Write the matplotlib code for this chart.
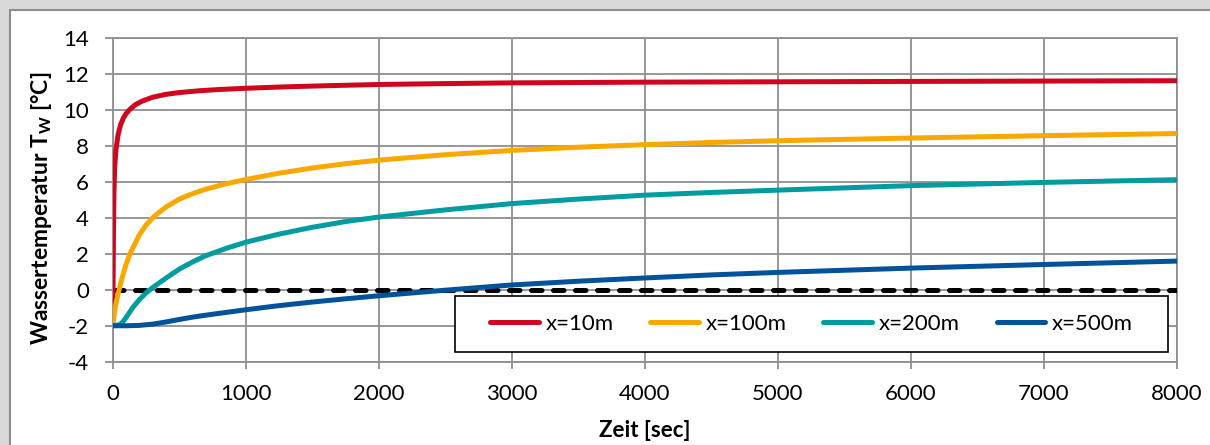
import numpy as np
import matplotlib
matplotlib.use('Agg')
import matplotlib.pyplot as plt
from matplotlib.patches import Rectangle

plt.rcParams['font.family'] = ['Lato', 'DejaVu Sans']
plt.rcParams['axes.unicode_minus'] = False
plt.rcParams['mathtext.fontset'] = 'custom'
plt.rcParams['mathtext.bf'] = 'Lato:bold'
plt.rcParams['mathtext.rm'] = 'Lato'

# Werte (Zeit in s, Temperatur in °C)
t_10 = [0, 3, 6, 10, 15, 25, 40, 60, 80, 100, 130, 170, 220, 300, 400, 500, 650, 800, 1000,
        1300, 1600, 2000, 2500, 3000, 4000, 5000, 6000, 7000, 8000]
T_10 = [-2, 0, 3, 5.5, 6.8, 7.8, 8.6, 9.2, 9.55, 9.8, 10.05, 10.3, 10.5, 10.72, 10.88, 10.98, 11.08, 11.15, 11.22,
        11.3, 11.36, 11.43, 11.48, 11.52, 11.56, 11.58, 11.6, 11.62, 11.64]

t_100 = [0, 20, 40, 65, 100, 130, 160, 200, 250, 300, 350, 400, 500, 600, 700, 850, 1000,
         1250, 1500, 1750, 2000, 2500, 3000, 3500, 4000, 4500, 5000, 6000, 7000, 8000]
T_100 = [-2, -0.95, -0.25, 0.5, 1.4, 2.0, 2.45, 3.05, 3.6, 4.0, 4.32, 4.6, 5.05, 5.35, 5.6, 5.9, 6.14,
         6.49, 6.78, 7.02, 7.22, 7.52, 7.76, 7.94, 8.08, 8.2, 8.3, 8.45, 8.58, 8.7]

t_200 = [0, 50, 75, 100, 150, 200, 250, 300, 400, 500, 600, 700, 850, 1000, 1250, 1500, 1750,
         2000, 2500, 3000, 3500, 4000, 4500, 5000, 6000, 7000, 8000]
T_200 = [-2, -1.95, -1.8, -1.55, -1.0, -0.55, -0.18, 0.12, 0.65, 1.15, 1.55, 1.9, 2.3, 2.65, 3.1, 3.48, 3.8,
         4.05, 4.45, 4.8, 5.05, 5.27, 5.42, 5.55, 5.8, 5.98, 6.13]

t_500 = [0, 100, 200, 300, 400, 500, 600, 700, 850, 1000, 1250, 1500, 1750, 2000, 2500, 3000, 3500,
         4000, 4500, 5000, 6000, 7000, 8000]
T_500 = [-2, -2.0, -1.98, -1.91, -1.79, -1.65, -1.52, -1.41, -1.26, -1.11, -0.88, -0.68, -0.5, -0.33, -0.02,
         0.27, 0.48, 0.66, 0.83, 0.97, 1.21, 1.41, 1.6]

t_null = [0, 8000]
T_null = [0, 0]

labels = ['x=10m', 'x=100m', 'x=200m', 'x=500m']
colors = ['#D0061F', '#F9A800', '#009CA0', '#00529B']

fig = plt.figure(figsize=(12.1, 4.45), dpi=100)
fig.patch.set_facecolor('#d9d9d9')
fig.patches.append(Rectangle((10 / 1210, -0.1), 1.1, 1.1 - 10 / 445, transform=fig.transFigure,
                             facecolor='white', edgecolor='#8c8c8c', linewidth=1.5, zorder=-1))

ax = fig.add_axes([0.0931, 0.1872, 0.8796, 0.7267])
ax.set_facecolor('white')

grid_c = '#8f8f8f'
ax.plot(t_null, T_null, color='black', lw=3.6, linestyle=(0, (2.1, 2.3)),
        dash_capstyle='round', zorder=3)
for t, T, lab, c in zip([t_10, t_100, t_200, t_500], [T_10, T_100, T_200, T_500], labels, colors):
    ax.plot(t, T, color=c, lw=3.6, label=lab, solid_capstyle='round',
            solid_joinstyle='round', zorder=4)

ax.set_xlim(0, 8000)
ax.set_ylim(-4, 14)
ax.set_xticks(np.arange(0, 8001, 1000))
ax.set_yticks(np.arange(-4, 15, 2))
ax.grid(True, color=grid_c, lw=1.3)
ax.set_axisbelow(True)
for s in ax.spines.values():
    s.set_color(grid_c)
    s.set_linewidth(1.3)
ax.tick_params(axis='y', direction='out', length=6, width=1.3, color=grid_c, labelsize=16, pad=11)
ax.tick_params(axis='x', direction='out', length=4.8, width=1.3, color=grid_c, labelsize=16, pad=11)

ax.set_xlabel('Zeit [sec]', fontsize=16, fontweight='bold')
ax.set_ylabel(r'Wassertemperatur T$_\mathbf{W}$ [°C]', fontsize=16.5, fontweight='bold')
ax.xaxis.set_label_coords(0.5, -0.18)
ax.yaxis.set_label_coords(-0.0552, 0.475)

# Legendenrahmen separat, damit die Einträge mittig sitzen
box = (0.3216, 0.030, 0.67, 0.173)
ax.add_patch(Rectangle(box[:2], box[2], box[3], transform=ax.transAxes, facecolor='white',
                       edgecolor='black', linewidth=1.2, zorder=4.5, clip_on=False))
leg = ax.legend(loc='center', bbox_to_anchor=(box[0] + box[2] / 2, box[1] + box[3] / 2),
                ncol=4, fontsize=16, frameon=False, borderaxespad=0, borderpad=0,
                handlelength=2.2, handletextpad=0.3, columnspacing=1.65)
leg.set_zorder(5)

fig.savefig('out.png', dpi=100)
